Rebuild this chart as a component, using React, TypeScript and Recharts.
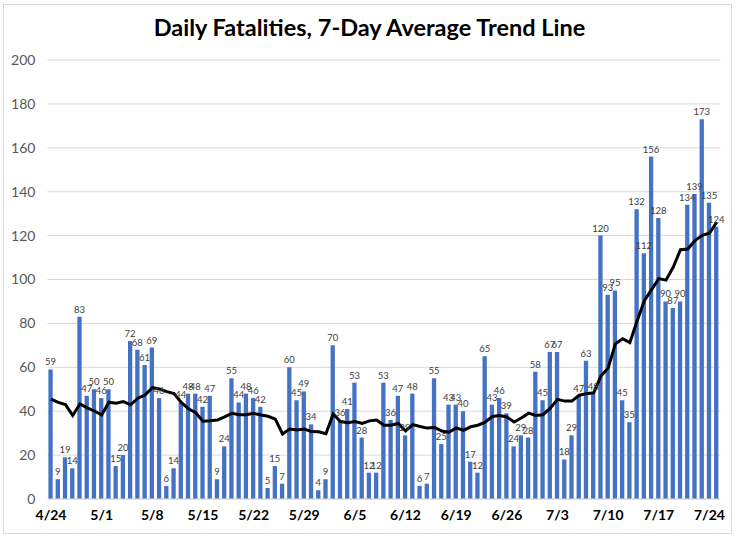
import React from "react";
import { ComposedChart, Bar, Line, XAxis, YAxis, CartesianGrid, LabelList } from "recharts";

const dates = [
  "4/24","4/25","4/26","4/27","4/28","4/29","4/30",
  "5/1","5/2","5/3","5/4","5/5","5/6","5/7","5/8","5/9","5/10","5/11","5/12","5/13","5/14","5/15","5/16","5/17","5/18","5/19","5/20","5/21","5/22","5/23","5/24","5/25","5/26","5/27","5/28","5/29","5/30","5/31",
  "6/1","6/2","6/3","6/4","6/5","6/6","6/7","6/8","6/9","6/10","6/11","6/12","6/13","6/14","6/15","6/16","6/17","6/18","6/19","6/20","6/21","6/22","6/23","6/24","6/25","6/26","6/27","6/28","6/29","6/30",
  "7/1","7/2","7/3","7/4","7/5","7/6","7/7","7/8","7/9","7/10","7/11","7/12","7/13","7/14","7/15","7/16","7/17","7/18","7/19","7/20","7/21","7/22","7/23","7/24","7/25",
];

const fatalities = [
  59, 9, 19, 14, 83, 47, 50,
  46, 50, 15, 20, 72, 68, 61, 69, 46, 6, 14, 44, 48, 48, 42, 47, 9, 24, 55, 44, 48, 46, 42, 5, 15, 7, 60, 45, 49, 34, 4,
  9, 70, 36, 41, 53, 28, 12, 12, 53, 36, 47, 29, 48, 6, 7, 55, 25, 43, 43, 40, 17, 12, 65, 43, 46, 39, 24, 29, 28, 58,
  45, 67, 67, 18, 29, 47, 63, 48, 120, 93, 95, 45, 35, 132, 112, 156, 128, 90, 87, 90, 134, 139, 173, 135, 124,
];

const sevenDayAvg = [
  45.5, 44, 43, 38, 43.3, 41.5, 40.1,
  38.3, 44.1, 43.6, 44.4, 42.9, 45.9, 47.4, 50.7, 50.1, 48.9, 48, 44, 41.1, 39.3, 35.4, 35.6, 36, 37.4, 39, 38.4, 38.4, 39, 38.3, 37.7, 36.4, 29.6, 31.9, 31.4, 31.9, 30.7, 30.6,
  29.7, 38.7, 35.3, 34.7, 35.3, 34.4, 35.6, 36, 33.6, 33.6, 34.4, 31, 33.9, 33, 32.3, 32.6, 31, 30.4, 32.4, 31.3, 32.9, 33.6, 35, 37.6, 38, 37.4, 35.1, 36.9, 39.1, 38.1,
  38.4, 41.4, 45.4, 44.6, 44.6, 47.3, 48, 48.4, 56, 59.7, 70.7, 73, 71.3, 81.1, 90.3, 95.4, 100.4, 99.7, 105.7, 113.6, 113.9, 117.7, 120.1, 121.1, 126,
];

const yTicks = [0, 20, 40, 60, 80, 100, 120, 140, 160, 180, 200];

const data = dates.map((d, i) => ({ date: d, deaths: fatalities[i], avg: sevenDayAvg[i] }));

const FONT = "Lato, 'Open Sans', sans-serif";

export default function App() {
  return (
    <div style={{ position: "absolute", left: 0, top: 0, width: 739, height: 538, background: "#fff", fontFamily: FONT }}>
      <div style={{ position: "absolute", left: 3, top: 4, width: 729, height: 530, border: "1px solid #d9d9d9", boxSizing: "border-box" }} />
      <div style={{ position: "absolute", left: 0, top: 13, width: 739, textAlign: "center", fontSize: 23.5, fontWeight: 700, color: "#000" }}>
        Daily Fatalities, 7-Day Average Trend Line
      </div>
      <div style={{ position: "absolute", left: 0, top: 0 }}>
        <ComposedChart width={739} height={538} data={data} margin={{ top: 60, right: 18.7, bottom: 9, left: 0 }} barSize={4.3}>
          <CartesianGrid vertical={false} stroke="#d9d9d9" strokeWidth={1} />
          <XAxis
            dataKey="date"
            interval={6}
            height={30}
            tickLine={false}
            axisLine={{ stroke: "#d9d9d9" }}
            tickSize={0}
            tickMargin={11}
            tick={{ fontSize: 14, fontWeight: 700, fill: "#000", fontFamily: FONT }}
          />
          <YAxis
            width={47.4}
            domain={[0, 200]}
            ticks={yTicks}
            tickLine={false}
            axisLine={false}
            tickSize={0}
            tickMargin={12}
            tick={{ fontSize: 14, fill: "#595959", fontFamily: FONT }}
          />
          <Bar dataKey="deaths" fill="#4472C4" isAnimationActive={false}>
            <LabelList dataKey="deaths" position="top" offset={4} style={{ fontSize: 9.5, fill: "#404040", fontFamily: FONT }} />
          </Bar>
          <Line dataKey="avg" type="linear" stroke="#000" strokeWidth={3} dot={false} isAnimationActive={false} />
        </ComposedChart>
      </div>
    </div>
  );
}
